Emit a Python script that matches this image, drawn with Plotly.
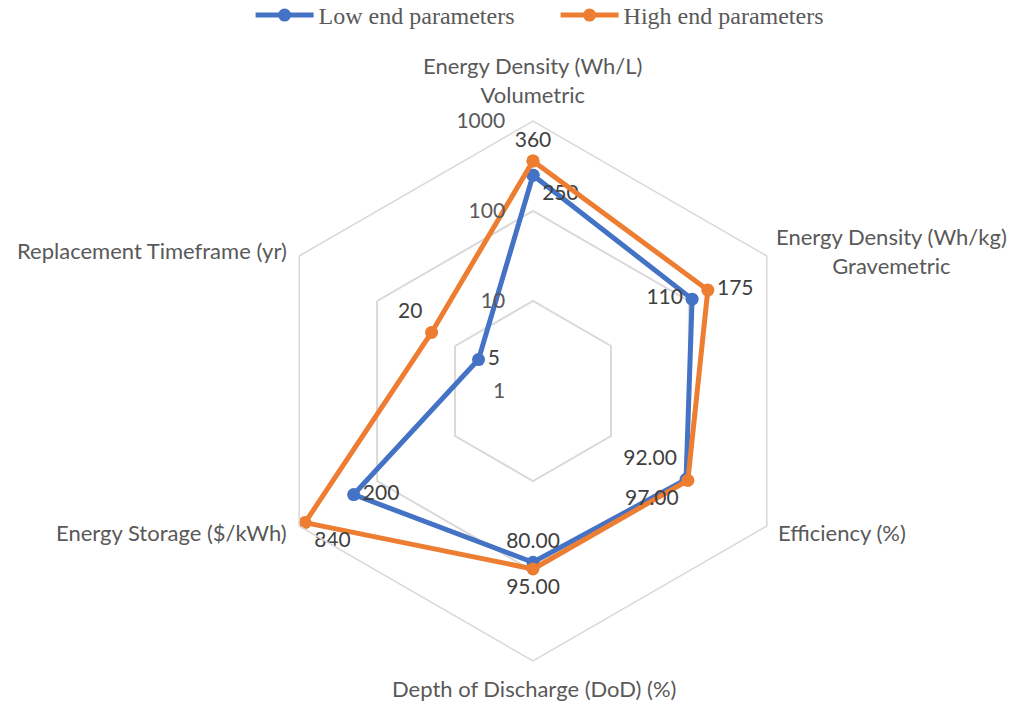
import plotly.graph_objects as go

categories = [
    "Energy Density (Wh/L)<br>Volumetric",
    "Energy Density (Wh/kg)<br>Gravemetric",
    "Efficiency (%)",
    "Depth of Discharge (DoD) (%)",
    "Energy Storage ($/kWh)",
    "Replacement Timeframe (yr)",
]
low_values = [250, 110, 92, 80, 200, 5]
high_values = [360, 175, 97, 95, 840, 20]
low_labels = ["250", "110", "92.00", "80.00", "200", "5"]
high_labels = ["360", "175", "97.00", "95.00", "840", "20"]
radial_ticks = [1, 10, 100, 1000]

low_pos = ["bottom right", "middle left", "top left", "top center", "middle right", "middle right"]
high_pos = ["top center", "middle right", "bottom left", "bottom center", "bottom right", "top left"]

blue = "#4472C4"
orange = "#ED7D31"
W, H = 1012, 702

fig = go.Figure()
for name, vals, labels, pos, color in [
    ("Low end parameters", low_values, low_labels, low_pos, blue),
    ("High end parameters", high_values, high_labels, high_pos, orange),
]:
    fig.add_trace(go.Scatterpolar(
        r=vals + vals[:1], theta=categories + categories[:1],
        name=name, mode="lines+markers+text",
        text=labels + [""], textposition=pos + ["middle center"],
        textfont=dict(family="Lato", size=21, color="#404040"),
        line=dict(color=color, width=5), marker=dict(size=13, color=color),
    ))

# category labels placed around the hexagon (pixel anchors -> paper coords)
label_anchor = [
    (532, 110, "center", "bottom"),
    (891, 251, "center", "middle"),
    (776, 532, "left", "middle"),
    (534, 688, "center", "middle"),
    (289, 532, "right", "middle"),
    (289, 250, "right", "middle"),
]
annotations = []
for cat, (px, py, xa, ya) in zip(categories, label_anchor):
    annotations.append(dict(
        text=cat, x=px / W, y=1 - py / H, xref="paper", yref="paper",
        xanchor=xa, yanchor=ya, align="center", showarrow=False,
        font=dict(family="Lato", size=22, color="#595959"),
    ))

cx, cy, R = 533, 391, 270
fig.update_layout(
    width=W, height=H,
    margin=dict(l=0, r=0, t=0, b=0, autoexpand=False),
    paper_bgcolor="white", plot_bgcolor="white",
    font=dict(family="Lato", size=21, color="#595959"),
    annotations=annotations,
    legend=dict(orientation="h", x=0.549, xanchor="center", y=1.01, yanchor="top",
                font=dict(family="Liberation Serif", size=24, color="#595959"),
                itemwidth=58, entrywidth=232, entrywidthmode="pixels",
                traceorder="normal"),
    polar=dict(
        domain=dict(x=[(cx - R) / W, (cx + R) / W],
                    y=[(H - cy - R) / H, (H - cy + R) / H]),
        gridshape="linear",
        bgcolor="white",
        radialaxis=dict(type="log", range=[0, 3], tickvals=radial_ticks,
                        ticktext=[str(v) for v in radial_ticks],
                        showline=False, ticks="outside", ticklen=20,
                        tickcolor="rgba(0,0,0,0)", angle=90, tickangle=90,
                        side="counterclockwise",
                        gridcolor="#D9D9D9", gridwidth=1.5,
                        tickfont=dict(family="Lato", size=21, color="#595959")),
        angularaxis=dict(direction="clockwise", rotation=90, showgrid=False,
                         ticks="", showticklabels=False,
                         linecolor="#D9D9D9", linewidth=1.5),
    ),
)

fig.write_html("out.html", config={"displayModeBar": False},
               post_script="document.body.style.margin='0';")
